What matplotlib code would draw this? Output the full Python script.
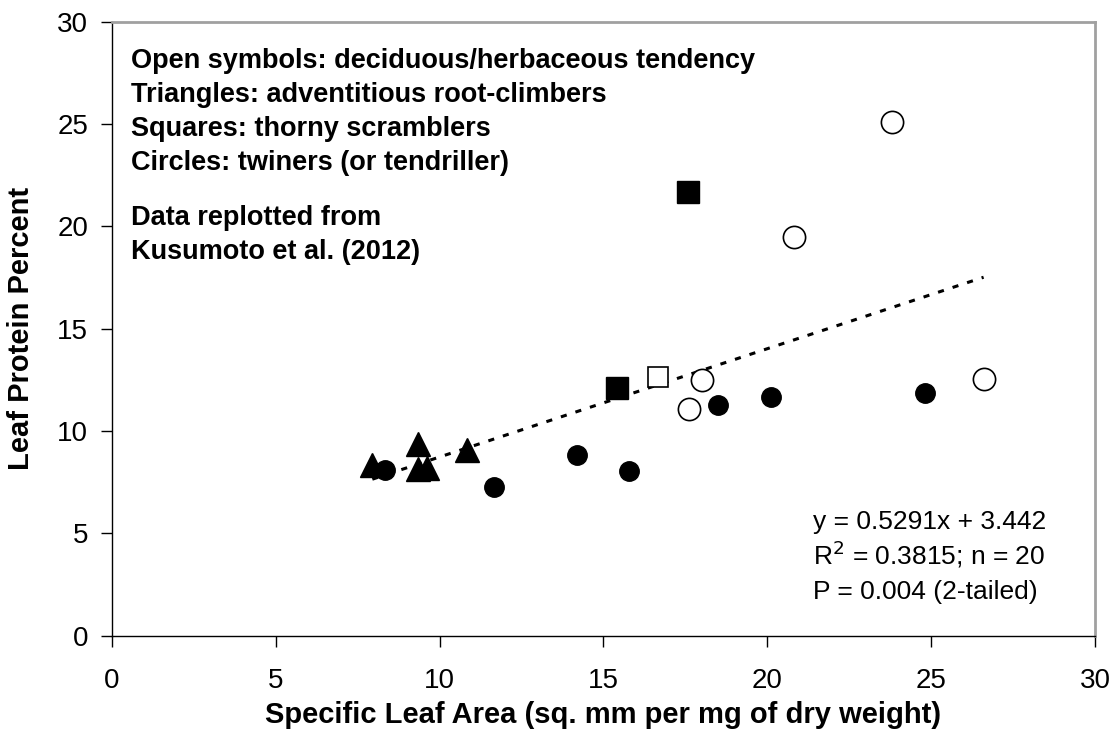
import numpy as np
import matplotlib
matplotlib.use('Agg')
import matplotlib.pyplot as plt

plt.rcParams['font.family'] = ['Liberation Sans', 'DejaVu Sans']

# triangles: adventitious root-climbers (all filled)
tri_x = [7.95, 9.35, 9.33, 9.63, 10.83]
tri_y = [8.35, 9.35, 8.16, 8.2, 9.08]

# circles: twiners, filled / open
circ_x = [8.35, 11.65, 14.2, 15.78, 18.5, 20.1, 24.8]
circ_y = [8.1, 7.28, 8.84, 8.06, 11.28, 11.67, 11.87]
ocirc_x = [17.6, 18.0, 20.8, 23.8, 26.6]
ocirc_y = [11.1, 12.5, 19.5, 25.1, 12.55]

# squares: thorny scramblers
sq_x = [17.58, 15.4]
sq_y = [21.7, 12.1]
osq_x = [16.67]
osq_y = [12.65]

slope, intercept = 0.5291, 3.442

W, H = 1114, 735
fig = plt.figure(figsize=(W / 100, H / 100), dpi=100)
ax = fig.add_axes([0.1003, 0.135, 0.8827, 0.8355])

all_x = tri_x + circ_x + ocirc_x + sq_x + osq_x
xl = np.array([min(all_x), max(all_x)])
ax.plot(xl, slope * xl + intercept, color='black', linestyle=(0, (2, 3)), linewidth=2.2, zorder=1)

ax.plot(circ_x, circ_y, 'o', color='black', markersize=14, zorder=2)
ax.plot(ocirc_x, ocirc_y, 'o', markerfacecolor='white', markeredgecolor='black', markersize=16, markeredgewidth=1.2, zorder=2)
ax.plot(sq_x, sq_y, 's', color='black', markersize=16, zorder=3)
ax.plot(osq_x, osq_y, 's', markerfacecolor='white', markeredgecolor='black', markersize=15, markeredgewidth=1.2, zorder=2)
ax.plot(tri_x, tri_y, '^', color='black', markersize=17, zorder=3)

ax.set_xlim(0, 30)
ax.set_ylim(0, 30)
ax.set_xticks(range(0, 31, 5))
ax.set_yticks(range(0, 31, 5))
ax.tick_params(labelsize=20, length=8, width=1)
ax.tick_params(axis='y', pad=9)
ax.tick_params(axis='x', pad=15)

for s in ['top', 'right']:
    ax.spines[s].set_color('#a0a0a0')
    ax.spines[s].set_linewidth(2)
for s in ['left', 'bottom']:
    ax.spines[s].set_color('black')
    ax.spines[s].set_linewidth(1)

ax.set_xlabel('Specific Leaf Area (sq. mm per mg of dry weight)', fontsize=21, fontweight='bold', labelpad=5)
ax.set_ylabel('Leaf Protein Percent', fontsize=21, fontweight='bold', labelpad=16)

# notes, placed line by line (baselines in pixels from top)
notes = ['Open symbols: deciduous/herbaceous tendency',
         'Triangles: adventitious root-climbers',
         'Squares: thorny scramblers',
         'Circles: twiners (or tendriller)',
         'Data replotted from',
         'Kusumoto et al. (2012)']
note_base = [68, 102, 136, 170, 225, 259]
for t, b in zip(notes, note_base):
    fig.text(131 / W, 1 - b / H, t, fontsize=19.5, fontweight='bold', va='baseline', ha='left')

stats = ['y = 0.5291x + 3.442', r'R$^2$ = 0.3815; n = 20', 'P = 0.004 (2-tailed)']
stat_base = [529, 564, 599]
for t, b in zip(stats, stat_base):
    fig.text(813 / W, 1 - b / H, t, fontsize=19, va='baseline', ha='left')

fig.savefig('out.png', dpi=100)
